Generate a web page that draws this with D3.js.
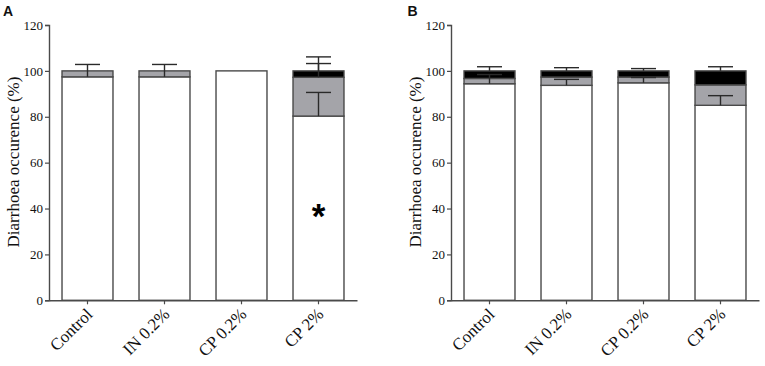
<!DOCTYPE html>
<html><head><meta charset="utf-8">
<script src="https://cdn.jsdelivr.net/npm/d3@7"></script>
<style>body{margin:0;background:#fff}svg{display:block}</style>
</head><body>
<script>
const categories = ["Control", "IN 0.2%", "CP 0.2%", "CP 2%"];
const yTicks = [0, 20, 40, 60, 80, 100, 120];
// Panel A
const A_white = [97.4, 97.4, 100, 80.3];
const A_gray = [2.6, 2.6, 0, 16.9];
const A_black = [0, 0, 0, 2.8];
const A_whiteErr = [5.4, 5.4, 0, 10.3];
const A_grayErr = [0, 0, 0, 6.0];
const A_blackErr = [0, 0, 0, 6.1];
// Panel B
const B_white = [94.4, 93.7, 94.8, 85.0];
const B_gray = [2.3, 3.6, 2.5, 8.9];
const B_black = [3.3, 2.7, 2.7, 6.1];
const B_whiteErr = [4.0, 2.6, 2.3, 4.2];
const B_grayErr = [0, 0, 0, 0];
const B_blackErr = [1.8, 1.4, 1.0, 1.8];

const W = 765, H = 366;
const svg = d3.select("body").append("svg").attr("width", W).attr("height", H);
const serif = "'Liberation Serif','Times New Roman',serif";
const sans = "'Liberation Sans',Arial,sans-serif";
const axisCol = "#4a4a4a";

function panel(x0, letter, letterX, white, gray, black, wErr, gErr, bErr, star) {
  const w = 308;
  const g = svg.append("g");
  const x = d3.scaleBand().domain(categories).range([x0, x0 + w]).paddingInner(0.338).paddingOuter(0.169);
  const y = d3.scaleLinear().domain([0, 120]).range([300.3, 25]);
  const colors = ["#ffffff", "#a4a4a9", "#000000"];
  const segs = [white, gray, black];
  const errs = [wErr, gErr, bErr];
  categories.forEach((c, i) => {
    let base = 0;
    segs.forEach((s, k) => {
      const v = s[i];
      if (v > 0) {
        g.append("rect").attr("x", x(c)).attr("width", x.bandwidth())
          .attr("y", y(base + v)).attr("height", y(base) - y(base + v))
          .attr("fill", colors[k]).attr("stroke", "#4a4a4a").attr("stroke-width", 1.4);
      }
      base += v;
    });
  });
  categories.forEach((c, i) => {
    let base = 0;
    const cx = x(c) + x.bandwidth() / 2;
    segs.forEach((s, k) => {
      base += s[i];
      const e = errs[k][i];
      if (e > 0) {
        g.append("line").attr("x1", cx).attr("x2", cx).attr("y1", y(base)).attr("y2", y(base + e))
          .attr("stroke", "#2a2a2a").attr("stroke-width", 1.4);
        g.append("line").attr("x1", cx - 12.5).attr("x2", cx + 12.5).attr("y1", y(base + e)).attr("y2", y(base + e))
          .attr("stroke", "#2a2a2a").attr("stroke-width", 1.4);
      }
    });
  });
  // y axis
  const ya = g.append("g").attr("transform", `translate(${x0},0)`)
    .call(d3.axisLeft(y).tickValues(yTicks).tickSize(4).tickPadding(2));
  ya.select(".domain").attr("stroke", axisCol).attr("stroke-width", 1.4);
  ya.selectAll(".tick line").attr("stroke", axisCol).attr("stroke-width", 1.2);
  ya.selectAll("text").attr("font-family", serif).attr("font-size", 13).attr("fill", "#111");
  // x axis
  const xa = g.append("g").attr("transform", `translate(0,300.3)`)
    .call(d3.axisBottom(x).tickSize(4).tickSizeOuter(0));
  xa.select(".domain").attr("stroke", axisCol).attr("stroke-width", 1.4);
  xa.selectAll(".tick line").attr("stroke", axisCol).attr("stroke-width", 1.2);
  xa.selectAll("text").attr("font-family", serif).attr("font-size", 17).attr("fill", "#111")
    .attr("text-anchor", "end").attr("dy", 0).attr("y", 0)
    .attr("transform", "translate(6,15) rotate(-45)");
  // y label
  g.append("text").attr("transform", `translate(${x0 - 30},162) rotate(-90)`)
    .attr("text-anchor", "middle").attr("font-family", serif).attr("font-size", 17).attr("fill", "#111")
    .text("Diarrhoea occurence (%)");
  g.append("text").attr("x", letterX).attr("y", 15.5).attr("font-family", sans).attr("font-weight", "bold")
    .attr("font-size", 14).attr("fill", "#111").text(letter);
  if (star) {
    g.append("text").attr("x", x(star) + x.bandwidth() / 2).attr("y", 228).attr("text-anchor", "middle")
      .attr("font-family", sans).attr("font-weight", "bold").attr("font-size", 35).attr("fill", "#000").text("*");
  }
}
panel(49, "A", 3, A_white, A_gray, A_black, A_whiteErr, A_grayErr, A_blackErr, "CP 2%");
panel(451, "B", 407.5, B_white, B_gray, B_black, B_whiteErr, B_grayErr, B_blackErr, null);
</script>
</body></html>
